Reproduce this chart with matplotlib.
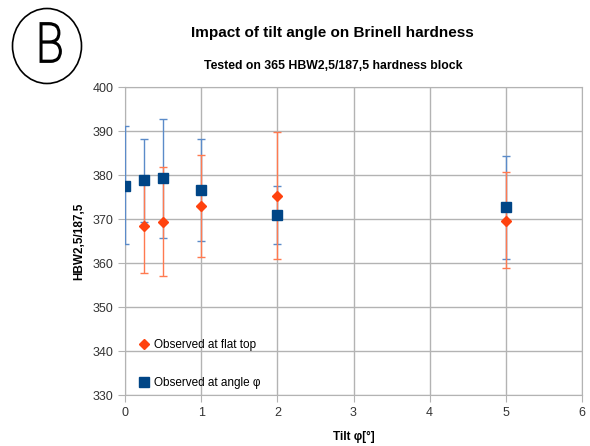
import matplotlib

matplotlib.use("Agg")
import matplotlib.pyplot as plt
from matplotlib.font_manager import FontProperties
from matplotlib.patches import Ellipse, PathPatch
from matplotlib.textpath import TextPath
from matplotlib.transforms import Affine2D

plt.rcParams["font.family"] = ["Liberation Sans", "DejaVu Sans"]

# tilt angle (deg) and hardness readings
tilt_flat = [0.25, 0.5, 1, 2, 5]
flat_mean = [368.3, 369.3, 372.9, 375.3, 369.6]
flat_hi = [379.0, 381.8, 384.6, 389.8, 380.6]
flat_lo = [357.8, 357.0, 361.3, 361.0, 358.8]

tilt_angle = [0, 0.25, 0.5, 1, 2, 5]
angle_mean = [377.6, 378.9, 379.3, 376.6, 370.9, 372.8]
angle_hi = [391.1, 388.2, 392.8, 388.2, 377.5, 384.4]
angle_lo = [364.4, 369.3, 365.7, 365.0, 364.4, 361.0]

ORANGE = "#ff420e"
BLUE = "#004586"
GRID = "#b3b3b3"

fig = plt.figure(figsize=(5.9, 4.46), dpi=100)
ax = fig.add_axes([125 / 590, 1 - 395 / 446, 457 / 590, 308 / 446])

err_a = [[m - l for m, l in zip(angle_mean, angle_lo)],
         [h - m for m, h in zip(angle_mean, angle_hi)]]
err_f = [[m - l for m, l in zip(flat_mean, flat_lo)],
         [h - m for m, h in zip(flat_mean, flat_hi)]]

ax.errorbar(tilt_angle, angle_mean, yerr=err_a, fmt="none", ecolor="#5b8bc9",
            elinewidth=1, capsize=3, capthick=1, zorder=3)
ax.errorbar(tilt_flat, flat_mean, yerr=err_f, fmt="none", ecolor="#ff7a50",
            elinewidth=1, capsize=3, capthick=1, zorder=4)
ax.plot(tilt_flat, flat_mean, "D", color=ORANGE, markersize=5.5,
        linestyle="none", zorder=5, label="Observed at flat top")
ax.plot(tilt_angle, angle_mean, "s", color=BLUE, markersize=7,
        linestyle="none", zorder=6, label="Observed at angle φ")

ax.set_xlim(0, 6)
ax.set_ylim(330, 400)
ax.set_xticks(range(0, 7))
ax.set_yticks(range(330, 401, 10))
ax.grid(True, color=GRID, linewidth=1)
ax.set_axisbelow(True)
for s in ax.spines.values():
    s.set_color(GRID)
ax.tick_params(colors=GRID, labelcolor="#333333", labelsize=9, length=5)

ax.set_xlabel("Tilt φ[°]", fontsize=8.5, fontweight="bold", labelpad=9)
ax.set_ylabel("HBW2,5/187,5", fontsize=8.5, fontweight="bold", labelpad=5)

ax.legend(loc="lower left", bbox_to_anchor=(0.003, -0.015), frameon=False,
          fontsize=8.5, labelspacing=2.2, handletextpad=0.2, handlelength=1.2)

fig.text(332 / 590, 1 - 33 / 446, "Impact of tilt angle on Brinell hardness",
         ha="center", va="center", fontsize=11, fontweight="bold")
fig.text(333 / 590, 1 - 66 / 446, "Tested on 365 HBW2,5/187,5 hardness block",
         ha="center", va="center", fontsize=8.8, fontweight="bold")

# circled "B" badge in the corner (pixel coordinates, origin bottom-left)
badge = Ellipse((47 / 590, 1 - 46 / 446), 69 / 590, 75 / 446,
                transform=fig.transFigure, fill=False, edgecolor="black",
                linewidth=1.2)
fig.patches.append(badge)

glyph = TextPath((0, 0), "B", size=1,
                 prop=FontProperties(family=["Roboto", "DejaVu Sans"], weight="light"))
gx0, gy0 = glyph.vertices.min(axis=0)
gx1, gy1 = glyph.vertices.max(axis=0)
box_l, box_r, box_b, box_t = 36, 61, 446 - 62, 446 - 23
sx = (box_r - box_l) / (gx1 - gx0)
sy = (box_t - box_b) / (gy1 - gy0)
place = Affine2D().translate(-gx0, -gy0).scale(sx, sy).translate(box_l, box_b)
fig.patches.append(PathPatch(glyph, transform=place, facecolor="black",
                             edgecolor="black", linewidth=1.3))

fig.savefig("out.png", dpi=100)
